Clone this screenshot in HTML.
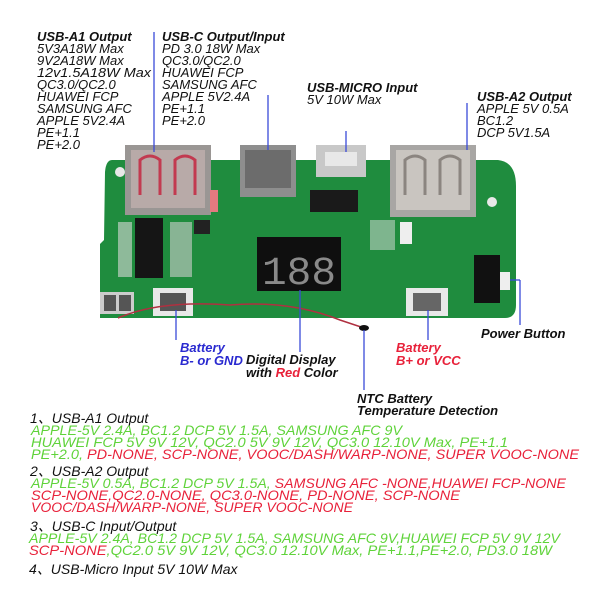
<!DOCTYPE html>
<html><head><style>
html,body{margin:0;padding:0;background:#fff;}
svg{display:block;}
text{font-family:"Liberation Sans","Noto Sans CJK SC",sans-serif;}
.t{font-size:13px;font-style:italic;fill:#111;}
.b{font-size:13px;font-style:italic;font-weight:bold;fill:#111;}
.s{font-size:14px;font-style:italic;fill:#111;}
.g{fill:#5fd33a;}
.r{fill:#e8213a;}
</style></head><body>
<svg width="600" height="600" viewBox="0 0 600 600">
<rect width="600" height="600" fill="#fff"/>
<path d="M112 160 Q106 160 105 172 L104 240 L100 244 L100 318 L505 318 Q516 318 516 305 L516 186 Q516 162 498 160 Z" fill="#1f8c3e"/>
<circle cx="120" cy="172" r="5" fill="#e8e8e8"/>
<circle cx="492" cy="202" r="5" fill="#e8e8e8"/>
<rect x="125" y="145" width="86" height="70" fill="#9a9694"/>
<rect x="131" y="150" width="74" height="58" fill="#b8aaa8"/>
<path d="M140 195 L140 160 Q150 152 160 160 L160 195" fill="none" stroke="#c23a50" stroke-width="3"/>
<path d="M175 195 L175 160 Q185 152 195 160 L195 195" fill="none" stroke="#c23a50" stroke-width="3"/>
<rect x="210" y="190" width="8" height="22" fill="#e37a80"/>
<rect x="240" y="145" width="56" height="52" fill="#8e8e8e"/>
<rect x="245" y="150" width="46" height="38" fill="#6c6c6c"/>
<rect x="316" y="145" width="50" height="32" fill="#c8c8c8"/>
<rect x="325" y="152" width="32" height="14" fill="#e8e8e8"/>
<rect x="390" y="145" width="86" height="72" fill="#a8a6a4"/>
<rect x="396" y="150" width="74" height="60" fill="#c9c5c0"/>
<path d="M405 195 L405 160 Q415 152 425 160 L425 195" fill="none" stroke="#8b8580" stroke-width="3"/>
<path d="M440 195 L440 160 Q450 152 460 160 L460 195" fill="none" stroke="#8b8580" stroke-width="3"/>
<rect x="135" y="218" width="28" height="60" fill="#151515"/>
<rect x="118" y="222" width="14" height="55" fill="#d8d8d8" opacity=".6"/>
<rect x="170" y="222" width="22" height="55" fill="#cfcfcf" opacity=".6"/>
<rect x="194" y="220" width="16" height="14" fill="#222"/>
<rect x="310" y="190" width="48" height="22" fill="#1a1a1a"/>
<rect x="370" y="220" width="25" height="30" fill="#ddd" opacity=".5"/>
<rect x="400" y="222" width="12" height="22" fill="#eee"/>
<rect x="257" y="237" width="84" height="54" fill="#0f0f0f"/>
<text x="262" y="284" font-size="40" fill="#8a8a8a" style="font-family:'Liberation Mono',monospace" textLength="74" lengthAdjust="spacingAndGlyphs">188</text>
<rect x="153" y="288" width="40" height="28" fill="#e8e8e8"/>
<rect x="160" y="293" width="26" height="18" fill="#555"/>
<rect x="406" y="288" width="42" height="28" fill="#e8e8e8"/>
<rect x="413" y="293" width="28" height="18" fill="#666"/>
<rect x="100" y="292" width="34" height="22" fill="#ccc"/>
<rect x="104" y="295" width="12" height="16" fill="#555"/>
<rect x="119" y="295" width="12" height="16" fill="#555"/>
<rect x="474" y="255" width="26" height="48" fill="#111"/>
<rect x="500" y="272" width="10" height="18" fill="#eee"/>
<path d="M118 318 Q160 300 230 305 Q290 300 340 320 L364 328" fill="none" stroke="#b03040" stroke-width="1.5"/>
<ellipse cx="364" cy="328" rx="5" ry="3" fill="#111"/>
<g stroke="#3a4ad8" stroke-width="1.3">
<line x1="154" y1="32" x2="154" y2="152"/>
<line x1="268" y1="95" x2="268" y2="150"/>
<line x1="346" y1="131" x2="346" y2="152"/>
<line x1="467" y1="103" x2="467" y2="150"/>
<line x1="176" y1="310" x2="176" y2="340"/>
<line x1="300" y1="290" x2="300" y2="352"/>
<line x1="364" y1="330" x2="364" y2="390"/>
<line x1="428" y1="310" x2="428" y2="340"/>
<line x1="510" y1="280" x2="520" y2="280"/>
<line x1="520" y1="280" x2="520" y2="325"/>
</g>
<text class="b" x="37" y="41">USB-A1 Output</text>
<g class="t">
<text x="37" y="53">5V3A18W Max</text>
<text x="37" y="65">9V2A18W Max</text>
<text x="37" y="77" textLength="114" lengthAdjust="spacingAndGlyphs">12v1.5A18W Max</text>
<text x="37" y="89">QC3.0/QC2.0</text>
<text x="37" y="101">HUAWEI FCP</text>
<text x="37" y="113">SAMSUNG AFC</text>
<text x="37" y="125">APPLE 5V2.4A</text>
<text x="37" y="137">PE+1.1</text>
<text x="37" y="149">PE+2.0</text>
</g>
<text class="b" x="162" y="41">USB-C Output/Input</text>
<g class="t">
<text x="162" y="53">PD 3.0 18W Max</text>
<text x="162" y="65">QC3.0/QC2.0</text>
<text x="162" y="77">HUAWEI FCP</text>
<text x="162" y="89">SAMSUNG AFC</text>
<text x="162" y="101">APPLE 5V2.4A</text>
<text x="162" y="113">PE+1.1</text>
<text x="162" y="125">PE+2.0</text>
</g>
<text class="b" x="307" y="92">USB-MICRO Input</text>
<text class="t" x="307" y="104">5V 10W Max</text>
<text class="b" x="477" y="101">USB-A2 Output</text>
<text class="t" x="477" y="113">APPLE 5V 0.5A</text>
<text class="t" x="477" y="125">BC1.2</text>
<text class="t" x="477" y="137">DCP 5V1.5A</text>
<text class="b" x="180" y="352" style="fill:#2a2ad0">Battery</text>
<text class="b" x="180" y="365" style="fill:#2a2ad0">B- or GND</text>
<text class="b" x="246" y="364">Digital Display</text>
<text class="b" x="246" y="377">with <tspan style="fill:#e8213a">Red</tspan> Color</text>
<text class="b" x="396" y="352" style="fill:#e8213a">Battery</text>
<text class="b" x="396" y="365" style="fill:#e8213a">B+ or VCC</text>
<text class="b" x="481" y="338">Power Button</text>
<text class="b" x="357" y="403">NTC Battery</text>
<text class="b" x="357" y="415">Temperature Detection</text>
<g class="s">
<text x="30" y="423">1、USB-A1 Output</text>
<text x="31" y="435" class="s g" textLength="371" lengthAdjust="spacingAndGlyphs">APPLE-5V 2.4A,  BC1.2 DCP 5V 1.5A,  SAMSUNG AFC 9V</text>
<text x="31" y="447" class="s g" textLength="477" lengthAdjust="spacingAndGlyphs">HUAWEI FCP 5V 9V 12V,  QC2.0 5V 9V 12V,  QC3.0 12.10V Max,  PE+1.1</text>
<text x="31" y="459" class="s" textLength="548" lengthAdjust="spacingAndGlyphs"><tspan class="g">PE+2.0,  </tspan><tspan class="r">PD-NONE,  SCP-NONE,  VOOC/DASH/WARP-NONE,  SUPER VOOC-NONE</tspan></text>
<text x="30" y="476">2、USB-A2 Output</text>
<text x="31" y="488" class="s" textLength="535" lengthAdjust="spacingAndGlyphs"><tspan class="g">APPLE-5V 0.5A,  BC1.2 DCP 5V 1.5A,  </tspan><tspan class="r">SAMSUNG AFC -NONE,HUAWEI FCP-NONE</tspan></text>
<text x="31" y="500" class="s r" textLength="429" lengthAdjust="spacingAndGlyphs">SCP-NONE,QC2.0-NONE,  QC3.0-NONE,  PD-NONE,  SCP-NONE</text>
<text x="31" y="512" class="s r" textLength="322" lengthAdjust="spacingAndGlyphs">VOOC/DASH/WARP-NONE,  SUPER VOOC-NONE</text>
<text x="30" y="531">3、USB-C Input/Output</text>
<text x="29" y="543" class="s g" textLength="531" lengthAdjust="spacingAndGlyphs">APPLE-5V 2.4A,  BC1.2 DCP 5V 1.5A,  SAMSUNG AFC 9V,HUAWEI FCP 5V 9V 12V</text>
<text x="29" y="555" class="s" textLength="523" lengthAdjust="spacingAndGlyphs"><tspan class="r">SCP-NONE</tspan><tspan class="g">,QC2.0 5V 9V 12V,  QC3.0 12.10V Max,  PE+1.1,PE+2.0,  PD3.0 18W</tspan></text>
<text x="29" y="574">4、USB-Micro Input 5V 10W Max</text>
</g>
</svg>
</body></html>
